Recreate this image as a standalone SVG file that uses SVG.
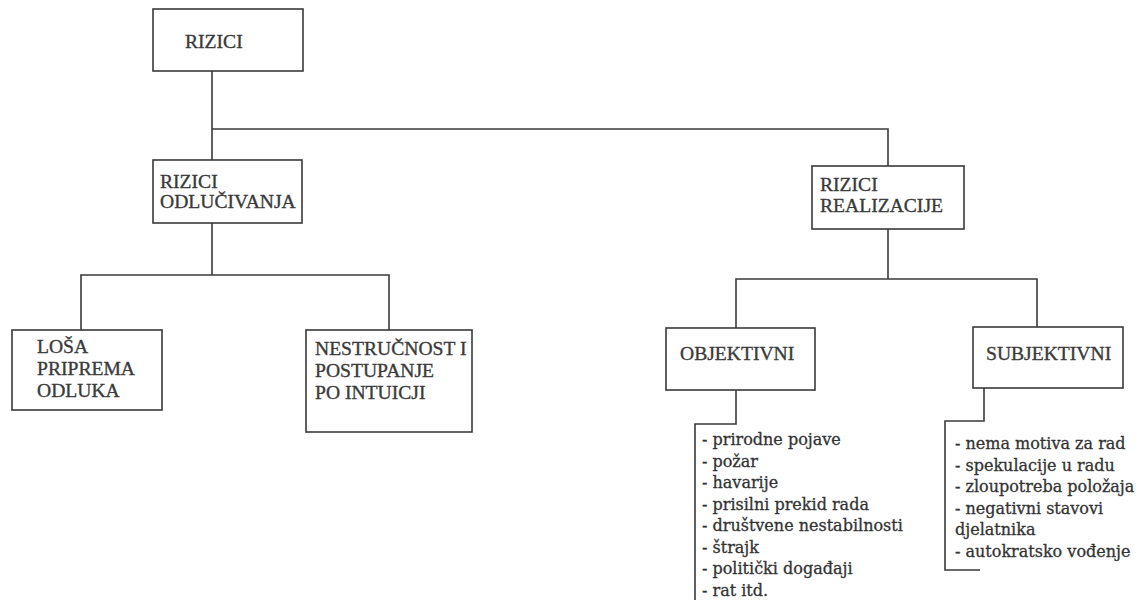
<svg xmlns="http://www.w3.org/2000/svg" width="1144" height="609" viewBox="0 0 1144 609">
<style>
.box{fill:#fff;stroke:#3a3a3a;stroke-width:1.6}
.ln{fill:none;stroke:#3a3a3a;stroke-width:1.6}
.t{font-family:"Liberation Serif","Times New Roman",serif;font-size:19.6px;fill:#3a3a3a;stroke:#3a3a3a;stroke-width:0.35}
.l{font-family:"DejaVu Serif","Liberation Serif",serif;font-size:16px;fill:#333;stroke:#333;stroke-width:0.3}
</style>
<rect width="1144" height="609" fill="#fff"/>
<g id="connectors">
<path class="ln" d="M212 71V160M212 129H888V166"/>
<path class="ln" d="M212 223V275M81 330V275H389V330"/>
<path class="ln" d="M888 229V279M736 328V279H1037V327"/>
<path class="ln" d="M736 390V424H695V600"/>
<path class="ln" d="M984 388V421H945V570H980"/>
</g>
<g id="rizici">
<rect class="box" x="153" y="9" width="150" height="62"/>
<text class="t" x="185" y="48">RIZICI</text>
</g>
<g id="rizici-odlucivanja">
<rect class="box" x="153" y="160" width="149" height="63"/>
<text class="t" x="160" y="188">RIZICI</text>
<text class="t" x="160" y="208">ODLUČIVANJA</text>
</g>
<g id="rizici-realizacije">
<rect class="box" x="812" y="166" width="152" height="63"/>
<text class="t" x="820" y="191">RIZICI</text>
<text class="t" x="820" y="212">REALIZACIJE</text>
</g>
<g id="losa-priprema">
<rect class="box" x="12" y="330" width="150" height="80"/>
<text class="t" x="37" y="353">LOŠA</text>
<text class="t" x="37" y="375">PRIPREMA</text>
<text class="t" x="37" y="397">ODLUKA</text>
</g>
<g id="nestrucnost">
<rect class="box" x="306" y="330" width="166" height="102"/>
<text class="t" x="315" y="355">NESTRUČNOST I</text>
<text class="t" x="315" y="377">POSTUPANJE</text>
<text class="t" x="315" y="399">PO INTUICJI</text>
</g>
<g id="objektivni">
<rect class="box" x="666" y="328" width="149" height="62"/>
<text class="t" x="680" y="360">OBJEKTIVNI</text>
</g>
<g id="subjektivni">
<rect class="box" x="973" y="327" width="150" height="61"/>
<text class="t" x="986" y="360">SUBJEKTIVNI</text>
</g>
<g id="objektivni-list">
<text class="l" x="702" y="445">- prirodne pojave</text>
<text class="l" x="702" y="466.5">- požar</text>
<text class="l" x="702" y="488">- havarije</text>
<text class="l" x="702" y="509.5">- prisilni prekid rada</text>
<text class="l" x="702" y="531">- društvene nestabilnosti</text>
<text class="l" x="702" y="552.5">- štrajk</text>
<text class="l" x="702" y="574">- politički događaji</text>
<text class="l" x="702" y="595.5">- rat itd.</text>
</g>
<g id="subjektivni-list">
<text class="l" x="955" y="449">- nema motiva za rad</text>
<text class="l" x="955" y="470.5">- spekulacije u radu</text>
<text class="l" x="955" y="492">- zloupotreba položaja</text>
<text class="l" x="955" y="513.5">- negativni stavovi</text>
<text class="l" x="955" y="535">djelatnika</text>
<text class="l" x="955" y="556.5">- autokratsko vođenje</text>
</g>
</svg>
